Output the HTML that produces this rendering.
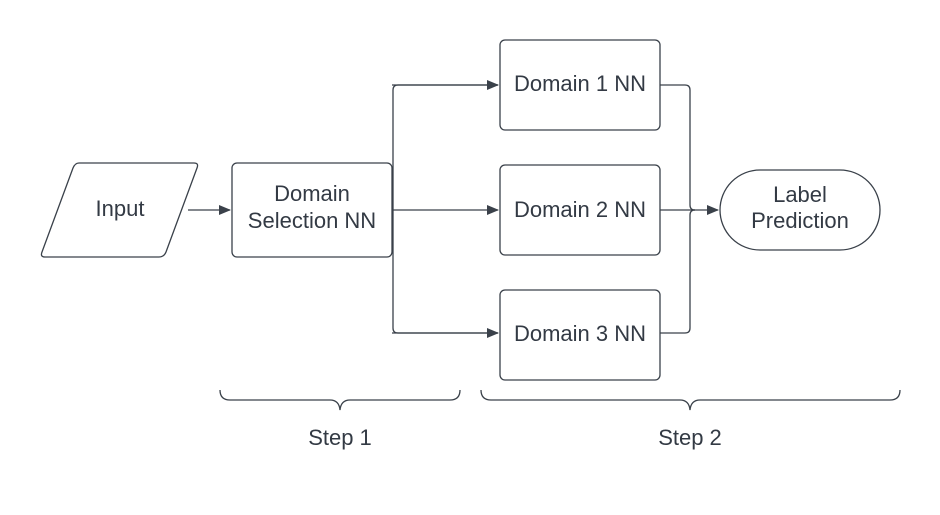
<!DOCTYPE html>
<html><head><style>body{margin:0;background:#fff}</style></head><body>
<svg width="940" height="510" xmlns="http://www.w3.org/2000/svg" font-family="Liberation Sans, sans-serif" font-size="22" fill="none" stroke="#3a414a" stroke-width="1.3">
<defs><marker id="a" markerWidth="12" markerHeight="10" refX="11" refY="5" orient="auto" markerUnits="userSpaceOnUse"><path d="M0,0 L12,5 L0,10 Z" fill="#3a414a" stroke="none"/></marker></defs>
<rect width="940" height="510" fill="#fff" stroke="none"/>
<path d="M79,163 H194 Q199,163 197,168 L166,252 Q164,257 159,257 H45 Q40,257 42,252 L73,168 Q75,163 79,163 Z"/>
<rect x="232" y="163" width="160" height="94" rx="5"/>
<rect x="500" y="40" width="160" height="90" rx="5"/>
<rect x="500" y="165" width="160" height="90" rx="5"/>
<rect x="500" y="290" width="160" height="90" rx="5"/>
<rect x="720" y="170" width="160" height="80" rx="40"/>
<path d="M188,210 H230" marker-end="url(#a)"/>
<path d="M392,210 H498" marker-end="url(#a)"/>
<path d="M498,85 H398 Q393,85 393,90 V328 Q393,333 398,333 H498"/>
<path d="M392,85 H498" marker-end="url(#a)"/>
<path d="M392,333 H498" marker-end="url(#a)"/>
<path d="M660,85 H685 Q690,85 690,90 V205 Q690,210 695,210"/>
<path d="M660,333 H685 Q690,333 690,328 V215 Q690,210 695,210"/>
<path d="M660,210 H718" marker-end="url(#a)"/>
<path d="M220,390 Q220,400 230,400 H330 Q339,400 340,410 Q341,400 350,400 H450 Q460,400 460,390"/>
<path d="M481,390 Q481,400 491,400 H680 Q689,400 690,410 Q691,400 700,400 H890 Q900,400 900,390"/>
<g fill="#333a44" stroke="none" text-anchor="middle">
<text x="120" y="216">Input</text>
<text x="312" y="201">Domain</text>
<text x="312" y="228">Selection NN</text>
<text x="580" y="91">Domain 1 NN</text>
<text x="580" y="217">Domain 2 NN</text>
<text x="580" y="341">Domain 3 NN</text>
<text x="800" y="202">Label</text>
<text x="800" y="228">Prediction</text>
<text x="340" y="445">Step 1</text>
<text x="690" y="445">Step 2</text>
</g>
</svg>
</body></html>
